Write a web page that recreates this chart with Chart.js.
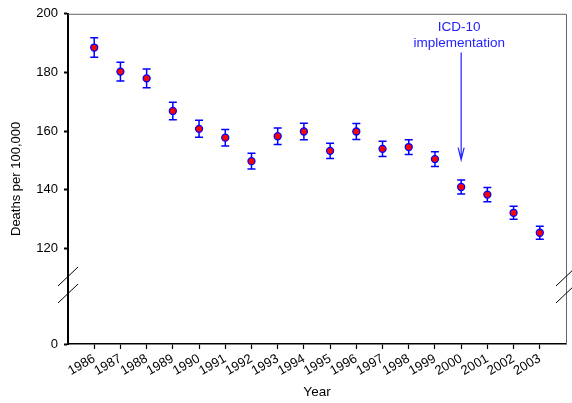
<!DOCTYPE html>
<html>
<head>
<meta charset="utf-8">
<script src="https://cdn.jsdelivr.net/npm/chart.js@4/dist/chart.umd.min.js"></script>
<style>
  html, body { margin: 0; padding: 0; background: #fff; }
  #wrap { width: 572px; height: 403px; }
</style>
</head>
<body>
<div id="wrap"><canvas id="deathsChart" width="572" height="403"></canvas></div>
<script>
// dados
const years = [1986, 1987, 1988, 1989, 1990, 1991, 1992, 1993, 1994, 1995, 1996, 1997, 1998, 1999, 2000, 2001, 2002, 2003];
const rates = [188.5, 180.3, 178.0, 166.9, 160.8, 157.8, 149.8, 158.3, 159.9, 153.3, 159.9, 154.0, 154.6, 150.5, 141.0, 138.4, 132.2, 125.4];
const errors = [3.3, 3.2, 3.2, 3.0, 2.9, 2.8, 2.7, 2.8, 2.8, 2.6, 2.7, 2.6, 2.5, 2.5, 2.4, 2.4, 2.2, 2.2];

// eixo y quebrado: o fundo do eixo é rotulado "0"
const yBottom = 87.5;
const yTicks = [120, 140, 160, 180, 200];
const yLabels = ['0', '120', '140', '160', '180', '200'];

// anotação (em unidades de dados)
const noteYear = 2000;
const noteLines = ['ICD-10', 'implementation'];
const noteTextValues = [195.3, 190.0];
const arrowFrom = 186.8;
const arrowTo = 150.3;

const FONT = '"Liberation Sans", Arial, sans-serif';

const errorBars = {
    id: 'errorBars',
    beforeDatasetsDraw(chart) {
        const { ctx, scales: { x, y } } = chart;
        ctx.save();
        ctx.strokeStyle = '#0000ff';
        ctx.lineWidth = 1.5;
        years.forEach((yr, i) => {
            const px = x.getPixelForValue(yr);
            const top = y.getPixelForValue(rates[i] + errors[i]);
            const bot = y.getPixelForValue(rates[i] - errors[i]);
            ctx.beginPath();
            ctx.moveTo(px, top); ctx.lineTo(px, bot);
            ctx.moveTo(px - 4, top); ctx.lineTo(px + 4, top);
            ctx.moveTo(px - 4, bot); ctx.lineTo(px + 4, bot);
            ctx.stroke();
        });
        ctx.restore();
    }
};

const frameAndNotes = {
    id: 'frameAndNotes',
    afterDraw(chart) {
        const { ctx, chartArea: a, scales: { x, y } } = chart;
        ctx.save();
        // moldura superior e direita
        ctx.strokeStyle = '#666';
        ctx.lineWidth = 1;
        ctx.beginPath();
        ctx.moveTo(a.left, a.top + 0.5); ctx.lineTo(a.right + 0.5, a.top + 0.5);
        ctx.lineTo(a.right + 0.5, a.bottom);
        ctx.stroke();

        // marcas de quebra
        ctx.strokeStyle = '#000';
        ctx.lineWidth = 1;
        const by = a.bottom - 59;
        [a.left, a.right].forEach(bx => {
            [-8.5, 8.5].forEach(d => {
                ctx.beginPath();
                ctx.moveTo(bx - 10, by + d + 9.5);
                ctx.lineTo(bx + 10, by + d - 9.5);
                ctx.stroke();
            });
        });

        // anotação CID-10
        const nx = x.getPixelForValue(noteYear);
        ctx.fillStyle = '#2222ff';
        ctx.font = '13.5px ' + FONT;
        ctx.textAlign = 'center';
        ctx.textBaseline = 'middle';
        noteLines.forEach((t, i) => ctx.fillText(t, nx - 2, y.getPixelForValue(noteTextValues[i])));
        const t0 = y.getPixelForValue(arrowFrom);
        const t1 = y.getPixelForValue(arrowTo);
        ctx.strokeStyle = '#2222ff';
        ctx.lineWidth = 1.2;
        ctx.beginPath();
        ctx.moveTo(nx, t0); ctx.lineTo(nx, t1);
        ctx.moveTo(nx - 3, t1 - 12); ctx.lineTo(nx, t1); ctx.lineTo(nx + 3, t1 - 12);
        ctx.stroke();
        ctx.restore();
    }
};

new Chart(document.getElementById('deathsChart'), {
    type: 'scatter',
    data: {
        datasets: [{
            label: 'Deaths per 100,000',
            data: years.map((yr, i) => ({ x: yr, y: rates[i] })),
            pointRadius: 3.5,
            pointBackgroundColor: '#ff0000',
            pointBorderColor: '#0000ff',
            pointBorderWidth: 1.3,
            showLine: false
        }]
    },
    options: {
        responsive: false,
        animation: false,
        devicePixelRatio: 1,
        layout: { padding: { top: 11, right: 6, left: 0, bottom: 0 } },
        plugins: { legend: { display: false }, tooltip: { enabled: false } },
        scales: {
            x: {
                type: 'linear',
                min: 1985,
                max: 2004,
                afterBuildTicks: (s) => { s.ticks = years.map(v => ({ value: v })); },
                afterFit: (s) => { s.height = 59; },
                ticks: {
                    color: '#000',
                    font: { family: FONT, size: 13 },
                    autoSkip: false,
                    minRotation: 30,
                    maxRotation: 30,
                    padding: 2,
                    callback: (v) => String(v)
                },
                grid: { drawOnChartArea: false, color: '#000', tickLength: 5, tickWidth: 1.2 },
                border: { color: '#000', width: 1.5 },
                title: {
                    display: true,
                    text: 'Year',
                    color: '#000',
                    font: { family: FONT, size: 13.5 },
                    padding: { top: 0, bottom: 3 }
                }
            },
            y: {
                min: yBottom,
                max: 200,
                afterBuildTicks: (s) => { s.ticks = [yBottom, ...yTicks].map(v => ({ value: v })); },
                afterFit: (s) => { s.width = 68; },
                ticks: {
                    color: '#000',
                    font: { family: FONT, size: 13 },
                    padding: 6,
                    callback: (v, i) => yLabels[i]
                },
                grid: { drawOnChartArea: false, color: '#000', tickLength: 4, tickWidth: 2 },
                border: { color: '#000', width: 2 },
                title: {
                    display: true,
                    text: 'Deaths per 100,000',
                    color: '#000',
                    font: { family: FONT, size: 13 },
                    padding: { top: 9, bottom: 0 }
                }
            }
        }
    },
    plugins: [errorBars, frameAndNotes]
});
</script>
</body>
</html>
